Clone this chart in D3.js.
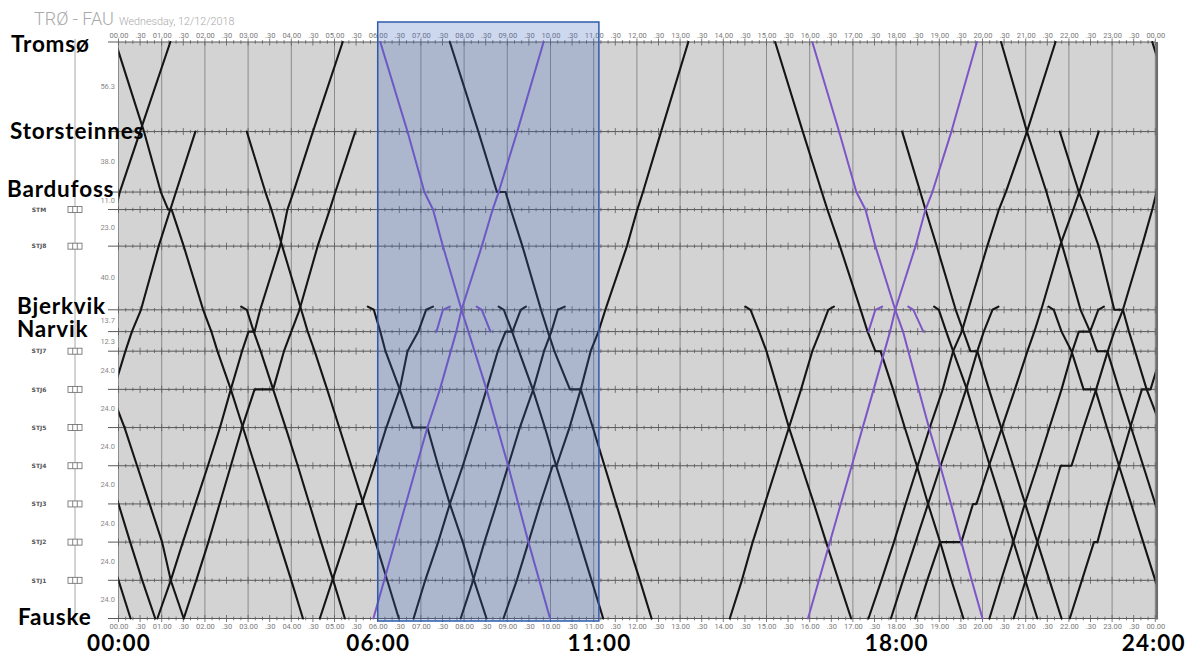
<!DOCTYPE html>
<html><head><meta charset="utf-8">
<script src="https://cdn.jsdelivr.net/npm/d3@7"></script>
<style>
html,body{margin:0;padding:0;background:#fff;}
svg{display:block;}
</style></head><body>
<svg id="chart" width="1193" height="655"></svg>
<script>
// ---------- data ----------
const stationCodes = ["Tro","Sto","Bar","STM","STJ8","Bje","Nar","STJ7","STJ6","STJ5","STJ4","STJ3","STJ2","STJ1","Fau"];
const stationKm    = [0,56.3,94.3,105.3,128.3,168.3,182.0,194.3,218.3,242.3,266.3,290.3,314.3,338.3,362.3];
const segmentLabels = ["56.3","38.0","11.0","23.0","40.0","13.7","12.3","24.0","24.0","24.0","24.0","24.0","24.0","24.0"];
const smallStationLabels = ["STM","STJ8","STJ7","STJ6","STJ5","STJ4","STJ3","STJ2","STJ1"];
const bigStationLabels = ["Tromsø","Storsteinnes","Bardufoss","Bjerkvik","Narvik","Fauske"];
const bigStationCodes  = ["Tro","Sto","Bar","Bje","Nar","Fau"];
const hookKm = 166.3;
const highlightHours = [6, 11.12];
const bottomLabels = ["00:00","06:00","11:00","18:00","24:00"];
const bottomLabelHours = [0, 6, 11.12, 18, 23.95];

// black trains: [hour, station]
const trainA = [[23.93,"Tro"],[24.59,"Sto"],[24.98,"Bar"],[25.15,"STM"],[25.23,"STM"],[25.51,"STJ8"],[25.96,"Bje"],[26.15,"Nar"],[26.29,"STJ7"],[26.60,"STJ6"],[26.88,"STJ5"],[27.16,"STJ4"],[27.44,"STJ3"],[27.72,"STJ2"],[28.00,"STJ1"],[28.27,"Fau"]];
const trainB = [[22.02,"Fau"],[22.30,"STJ1"],[22.58,"STJ2"],[22.66,"STJ2"],[22.90,"STJ3"],[23.16,"STJ4"],[23.42,"STJ5"],[23.69,"STJ6"],[23.89,"STJ6"],[24.16,"STJ7"],[24.31,"Nar"],[24.52,"Bje"],[24.93,"STJ8"],[25.20,"STM"],[25.33,"Bar"],[25.78,"Sto"]];
const trainC = [[20.72,"Fau"],[21.00,"STJ1"],[21.27,"STJ2"],[21.54,"STJ3"],[21.81,"STJ4"],[22.06,"STJ4"],[22.34,"STJ5"],[22.63,"STJ6"],[22.90,"STJ7"],[23.05,"Nar"],[23.25,"Bje"],[23.69,"STJ8"],[23.93,"STM"],[24.03,"Bar"],[24.50,"Sto"],[25.20,"Tro"]];
const trainD = [[21.79,"Sto"],[22.23,"Bar"],[22.39,"STM"],[22.69,"STJ8"],[23.05,"Bje"],[23.25,"Bje"],[23.39,"Nar"],[23.53,"STJ7"],[23.80,"STJ6"],[24.14,"STJ5"],[24.43,"STJ4"],[24.72,"STJ3"],[25.01,"STJ2"],[25.21,"STJ1"],[25.51,"Fau"]];
const trainE = [[20.43,"Tro"],[21.03,"Sto"],[21.48,"Bar"],[21.60,"STM"],[21.85,"STJ8"],[22.27,"Bje"],[22.49,"Nar"],[22.65,"STJ7"],[22.89,"STJ7"],[23.16,"STJ6"],[23.44,"STJ5"],[23.72,"STJ4"],[24.00,"STJ3"],[24.27,"STJ2"],[24.55,"STJ1"],[24.85,"Fau"]];
const trainF = [[21.53,"hook"],[21.65,"Bje"],[21.83,"Nar"],[22.06,"STJ7"],[22.34,"STJ6"],[22.61,"STJ6"],[22.88,"STJ5"],[23.16,"STJ4"],[23.44,"STJ3"],[23.72,"STJ2"],[24.00,"STJ1"],[24.28,"Fau"]];
const trainG = [[20.16,"Fau"],[20.43,"STJ1"],[20.71,"STJ2"],[20.98,"STJ3"],[21.27,"STJ4"],[21.55,"STJ5"],[21.83,"STJ6"],[22.08,"STJ7"],[22.23,"Nar"],[22.49,"Nar"],[22.68,"Bje"],[22.81,"hook"]];
const trainH = [[18.44,"Fau"],[18.72,"STJ1"],[19.02,"STJ2"],[19.51,"STJ2"],[19.78,"STJ3"],[19.86,"STJ3"],[20.15,"STJ4"],[20.45,"STJ5"],[20.75,"STJ6"],[21.04,"STJ7"],[21.20,"Nar"],[21.36,"Bje"],[21.79,"STJ8"],[22.10,"STM"],[22.24,"Bar"],[22.69,"Sto"]];
const trainI = [[18.14,"Sto"],[18.56,"Bar"],[18.68,"STM"],[18.94,"STJ8"],[19.38,"Bje"],[19.56,"Nar"],[19.72,"STJ7"],[19.88,"STJ7"],[20.15,"STJ6"],[20.43,"STJ5"],[20.71,"STJ4"],[20.99,"STJ3"],[21.27,"STJ2"],[21.55,"STJ1"],[21.83,"Fau"]];
const trainJ = [[17.36,"Fau"],[17.66,"STJ1"],[17.95,"STJ2"],[18.22,"STJ3"],[18.50,"STJ4"],[18.78,"STJ5"],[19.08,"STJ6"],[19.32,"STJ7"],[19.52,"Nar"],[19.67,"Bje"],[20.11,"STJ8"],[20.38,"STM"],[20.54,"Bar"],[21.03,"Sto"],[21.69,"Tro"]];
const trainK = [[18.88,"hook"],[18.99,"Bje"],[19.16,"Nar"],[19.32,"STJ7"],[19.64,"STJ6"],[19.90,"STJ5"],[20.17,"STJ4"],[20.45,"STJ3"],[20.72,"STJ2"],[20.99,"STJ1"],[21.27,"Fau"]];
const trainL = [[17.88,"Fau"],[18.16,"STJ1"],[18.45,"STJ2"],[18.74,"STJ3"],[19.03,"STJ4"],[19.33,"STJ5"],[19.62,"STJ6"],[19.88,"STJ7"],[20.03,"Nar"],[20.23,"Bje"],[20.37,"hook"]];
const trainM = [[15.20,"Tro"],[15.84,"Sto"],[16.28,"Bar"],[16.41,"STM"],[16.70,"STJ8"],[17.18,"Bje"],[17.34,"Nar"],[17.52,"STJ7"],[17.64,"STJ7"],[17.93,"STJ6"],[18.20,"STJ5"],[18.48,"STJ4"],[18.74,"STJ3"],[19.02,"STJ2"],[19.28,"STJ1"],[19.56,"Fau"]];
const trainN = [[14.15,"Fau"],[14.43,"STJ1"],[14.68,"STJ2"],[14.96,"STJ3"],[15.24,"STJ4"],[15.52,"STJ5"],[15.80,"STJ6"],[16.06,"STJ7"],[16.24,"Nar"],[16.43,"Bje"],[16.56,"hook"]];
const trainO = [[14.51,"hook"],[14.63,"Bje"],[14.83,"Nar"],[15.00,"STJ7"],[15.26,"STJ6"],[15.52,"STJ5"],[15.81,"STJ4"],[16.10,"STJ3"],[16.38,"STJ2"],[16.67,"STJ1"],[16.96,"Fau"]];
const trainP = [[8.91,"Fau"],[9.22,"STJ1"],[9.49,"STJ2"],[9.76,"STJ3"],[10.05,"STJ4"],[10.14,"STJ4"],[10.44,"STJ5"],[10.70,"STJ6"],[10.93,"STJ7"],[11.11,"Nar"],[11.27,"Bje"],[11.77,"STJ8"],[12.01,"STM"],[12.14,"Bar"],[12.56,"Sto"],[13.19,"Tro"]];
const trainQ = [[7.67,"Tro"],[8.33,"Sto"],[8.76,"Bar"],[8.96,"Bar"],[9.08,"STM"],[9.35,"STJ8"],[9.78,"Bje"],[9.94,"Nar"],[10.09,"STJ7"],[10.45,"STJ6"],[10.70,"STJ6"],[10.98,"STJ5"],[11.25,"STJ4"],[11.52,"STJ3"],[11.79,"STJ2"],[12.07,"STJ1"],[12.34,"Fau"]];
const trainR = [[7.92,"Fau"],[8.21,"STJ1"],[8.47,"STJ2"],[8.75,"STJ3"],[9.02,"STJ4"],[9.29,"STJ5"],[9.60,"STJ6"],[9.85,"STJ7"],[10.02,"Nar"],[10.17,"Bje"],[10.33,"hook"]];
const trainS = [[6.83,"Fau"],[7.10,"STJ1"],[7.40,"STJ2"],[7.67,"STJ3"],[7.97,"STJ4"],[8.25,"STJ5"],[8.52,"STJ6"],[8.78,"STJ7"],[8.96,"Nar"],[9.12,"Nar"],[9.31,"Bje"],[9.43,"hook"]];
const trainT = [[8.80,"hook"],[8.92,"Bje"],[9.11,"Nar"],[9.27,"STJ7"],[9.59,"STJ6"],[9.87,"STJ5"],[10.13,"STJ4"],[10.41,"STJ3"],[10.68,"STJ2"],[10.95,"STJ1"],[11.22,"Fau"]];
const trainU = [[5.77,"hook"],[5.91,"Bje"],[6.06,"Nar"],[6.18,"STJ7"],[6.51,"STJ6"],[6.81,"STJ5"],[7.15,"STJ5"],[7.40,"STJ4"],[7.67,"STJ3"],[7.97,"STJ2"],[8.23,"STJ1"],[8.52,"Fau"]];
const trainV = [[4.66,"Fau"],[4.95,"STJ1"],[5.24,"STJ2"],[5.52,"STJ3"],[5.63,"STJ3"],[5.92,"STJ4"],[6.20,"STJ5"],[6.51,"STJ6"],[6.69,"STJ7"],[6.94,"Nar"],[7.12,"Bje"],[7.28,"hook"]];
const trainW = [[2.97,"Sto"],[3.40,"Bar"],[3.54,"STM"],[3.79,"STJ8"],[4.23,"Bje"],[4.38,"Nar"],[4.54,"STJ7"],[4.83,"STJ6"],[5.11,"STJ5"],[5.39,"STJ4"],[5.67,"STJ3"],[5.95,"STJ2"],[6.22,"STJ1"],[6.49,"Fau"]];
const trainX = [[1.51,"Fau"],[1.80,"STJ1"],[2.08,"STJ2"],[2.34,"STJ3"],[2.60,"STJ4"],[2.86,"STJ5"],[3.15,"STJ6"],[3.58,"STJ6"],[3.83,"STJ7"],[4.00,"Nar"],[4.19,"Bje"],[4.61,"STJ8"],[4.89,"STM"],[5.02,"Bar"],[5.48,"Sto"]];
const trainY = [[2.84,"hook"],[2.97,"Bje"],[3.13,"Nar"],[3.29,"STJ7"],[3.58,"STJ6"],[3.87,"STJ5"],[4.15,"STJ4"],[4.42,"STJ3"],[4.69,"STJ2"],[4.97,"STJ1"],[5.24,"Fau"]];
const trainZ = [[0.90,"Fau"],[1.21,"STJ1"],[1.49,"STJ2"],[1.78,"STJ3"],[2.07,"STJ4"],[2.35,"STJ5"],[2.60,"STJ6"],[2.86,"STJ7"],[3.01,"Nar"],[3.15,"Nar"],[3.28,"Bje"],[3.74,"STJ8"],[3.91,"STM"],[4.05,"Bar"],[4.50,"Sto"],[5.19,"Tro"]];

// purple trains
const purpleD1  = [[6.06,"Tro"],[6.69,"Sto"],[7.08,"Bar"],[7.28,"STM"],[7.51,"STJ8"],[7.94,"Bje"],[8.10,"Nar"],[8.52,"STJ6"],[9.02,"STJ4"],[9.49,"STJ2"],[9.99,"Fau"]];
const purpleU1  = [[5.90,"Fau"],[7.15,"STJ5"],[7.44,"STJ6"],[7.82,"Nar"],[7.94,"Bje"],[8.41,"STJ8"],[8.66,"STM"],[8.80,"Bar"],[9.23,"Sto"],[9.84,"Tro"]];
const purpleU1s = [[7.36,"Nar"],[7.51,"Bje"],[7.67,"hook"]];
const purpleD1s = [[8.29,"hook"],[8.41,"Bje"],[8.61,"Nar"]];
const purpleD2  = [[16.06,"Tro"],[16.68,"Sto"],[17.08,"Bar"],[17.29,"STM"],[17.52,"STJ8"],[17.98,"Bje"],[18.16,"Nar"],[18.52,"STJ6"],[18.76,"STJ5"],[19.02,"STJ4"],[19.27,"STJ3"],[19.51,"STJ2"],[19.75,"STJ1"],[20.00,"Fau"]];
const purpleU2  = [[15.96,"Fau"],[17.48,"STJ6"],[17.86,"Nar"],[17.98,"Bje"],[18.45,"STJ8"],[18.68,"STM"],[18.84,"Bar"],[19.28,"Sto"],[19.87,"Tro"]];
const purpleU2s = [[17.36,"Nar"],[17.52,"Bje"],[17.68,"hook"]];
const purpleD2s = [[18.28,"hook"],[18.40,"Bje"],[18.63,"Nar"]];

const blackTrains = [trainA,trainB,trainC,trainD,trainE,trainF,trainG,trainH,trainI,trainJ,trainK,trainL,trainM,trainN,trainO,trainP,trainQ,trainR,trainS,trainT,trainU,trainV,trainW,trainX,trainY,trainZ];
const purpleTrains = [purpleD1,purpleU1,purpleU1s,purpleD1s,purpleD2,purpleU2,purpleU2s,purpleD2s];

// ---------- drawing ----------
const svg = d3.select("#chart");
const x = d3.scaleLinear().domain([0,24]).range([118.5,1155.3]);
const y = d3.scaleLinear().domain([0,362.3]).range([42,618.5]);
const kmOf = c => c === "hook" ? hookKm : stationKm[stationCodes.indexOf(c)];
const fmtTick = h => { const hh = Math.floor(h) % 24; return (h % 1 === 0) ? String(hh).padStart(2,"0") + ".00" : ".30"; };

// title
svg.append("text").attr("x",34).attr("y",25).attr("font-family","Roboto").attr("font-weight",300)
  .attr("font-size",18).attr("fill","#a9a9a9").text("TRØ - FAU");
svg.append("text").attr("x",119).attr("y",25).attr("font-family","Roboto").attr("font-weight",300)
  .attr("font-size",10.8).attr("fill","#a9a9a9").text("Wednesday, 12/12/2018");

// plot background
svg.append("rect").attr("x",x(0)).attr("y",y(0)).attr("width",x(24)-x(0)).attr("height",y(362.3)-y(0))
  .attr("fill","#d3d3d3");

// left vertical line
svg.append("line").attr("x1",75).attr("x2",75).attr("y1",39).attr("y2",622).attr("stroke","#a8a8a8").attr("stroke-width",1);

// hour grid lines
const hours = d3.range(0,25);
svg.append("g").selectAll("line").data(hours).join("line")
  .attr("x1",d=>x(d)).attr("x2",d=>x(d)).attr("y1",y(0)).attr("y2",y(362.3))
  .attr("stroke","#8c8c8c").attr("stroke-width",1);

// station lines with ticks
const tenMin = d3.range(0,24*6+1).map(i=>i/6);
const stLayer = svg.append("g");
stationCodes.forEach((c,i)=>{
  const yy = y(stationKm[i]);
  stLayer.append("line").attr("x1",108).attr("x2",x(24)).attr("y1",yy).attr("y2",yy)
    .attr("stroke","#5a5a5a").attr("stroke-width",1);
  stLayer.append("g").selectAll("line").data(tenMin).join("line")
    .attr("x1",d=>x(d)).attr("x2",d=>x(d))
    .attr("y1",d=>{const m=Math.round(d*6)%6; return yy-(m===3||m===0?3.5:1.8);})
    .attr("y2",d=>{const m=Math.round(d*6)%6; return yy+(m===3||m===0?3.5:1.8);})
    .attr("stroke","#5a5a5a").attr("stroke-width",0.8);
});

// right border
svg.append("line").attr("x1",x(24)+1.5).attr("x2",x(24)+1.5).attr("y1",y(0)).attr("y2",y(362.3)+1)
  .attr("stroke","#6e6e6e").attr("stroke-width",2.5);

// top & bottom time axes (labels)
const halfHours = d3.range(0,49).map(i=>i/2);
const topAxis = d3.axisTop(x).tickValues(halfHours).tickFormat(fmtTick).tickSize(0).tickPadding(0);
const gTop = svg.append("g").attr("transform","translate(0,38)").call(topAxis);
const botAxis = d3.axisBottom(x).tickValues(halfHours).tickFormat(fmtTick).tickSize(0).tickPadding(0);
const gBot = svg.append("g").attr("transform","translate(0,624)").call(botAxis);
[gTop,gBot].forEach(g=>{
  g.select(".domain").remove();
  g.selectAll("text").attr("font-family","Roboto").attr("font-size",7.5).attr("fill","#7a7a7a");
});

// distance labels
svg.append("g").selectAll("text").data(segmentLabels).join("text")
  .attr("x",115).attr("y",(d,i)=>(y(stationKm[i])+y(stationKm[i+1]))/2+2.5)
  .attr("text-anchor","end").attr("font-family","Roboto").attr("font-size",7.5).attr("fill","#8a8a8a")
  .text(d=>d);

// small station labels + icons
smallStationLabels.forEach(c=>{
  const yy = y(kmOf(c));
  svg.append("text").attr("x",39).attr("y",yy+2.3).attr("text-anchor","middle")
    .attr("font-family","DejaVu Sans").attr("font-weight","bold").attr("font-size",6)
    .attr("fill","#555").text(c);
  svg.append("rect").attr("x",68).attr("y",yy-3).attr("width",14).attr("height",6)
    .attr("fill","#fff").attr("stroke","#666").attr("stroke-width",0.8);
  [72.7,77.3].forEach(xx=>svg.append("line").attr("x1",xx).attr("x2",xx).attr("y1",yy-3).attr("y2",yy+3)
    .attr("stroke","#666").attr("stroke-width",0.8));
});

// trains
svg.append("defs").append("clipPath").attr("id","plotclip").append("rect")
  .attr("x",x(0)).attr("y",y(0)-4).attr("width",x(24)-x(0)).attr("height",y(362.3)-y(0)+8);
const trainLayer = svg.append("g").attr("clip-path","url(#plotclip)");
const trainLine = d3.line().x(d=>x(d[0])).y(d=>y(kmOf(d[1])));
function drawTrain(pts, color, w){
  [0,-24].forEach(shift=>{
    const s = pts.map(p=>[p[0]+shift,p[1]]);
    if (d3.max(s,d=>d[0]) < 0 || d3.min(s,d=>d[0]) > 24) return;
    trainLayer.append("path").attr("d",trainLine(s)).attr("fill","none").attr("stroke",color)
      .attr("stroke-width",w).attr("stroke-linejoin","round").attr("stroke-linecap","round");
  });
}
blackTrains.forEach(t=>drawTrain(t,"#151515",2.1));
purpleTrains.forEach(t=>drawTrain(t,"#7d55c7",2));

// highlight box
svg.append("rect").attr("x",x(highlightHours[0])).attr("y",22)
  .attr("width",x(highlightHours[1])-x(highlightHours[0])).attr("height",599)
  .attr("fill","rgb(60,100,190)").attr("fill-opacity",0.26)
  .attr("stroke","#2d5cab").attr("stroke-width",1.5);

// big station labels
const labelX  = {Tro:11,Sto:10,Bar:7,Bje:17,Nar:17,Fau:18};
const labelDy = {Tro:9.5,Sto:7,Bar:5,Bje:4,Nar:5.5,Fau:6};
bigStationLabels.forEach((lab,i)=>{
  const code = bigStationCodes[i];
  const yy = y(kmOf(code));
  svg.append("text").attr("x",labelX[code]).attr("y",yy+labelDy[code])
    .attr("font-family","Lato").attr("font-weight","bold").attr("font-size",22.5)
    .attr("letter-spacing",0.8).attr("fill","#000").text(lab);
});

// bottom big time labels
bottomLabels.forEach((lab,i)=>{
  svg.append("text").attr("x",x(bottomLabelHours[i])+0.6).attr("y",651).attr("text-anchor","middle")
    .attr("font-family","Lato").attr("font-weight","bold").attr("font-size",22.5)
    .attr("letter-spacing",1.2).attr("fill","#000").text(lab);
});
</script>
</body></html>
